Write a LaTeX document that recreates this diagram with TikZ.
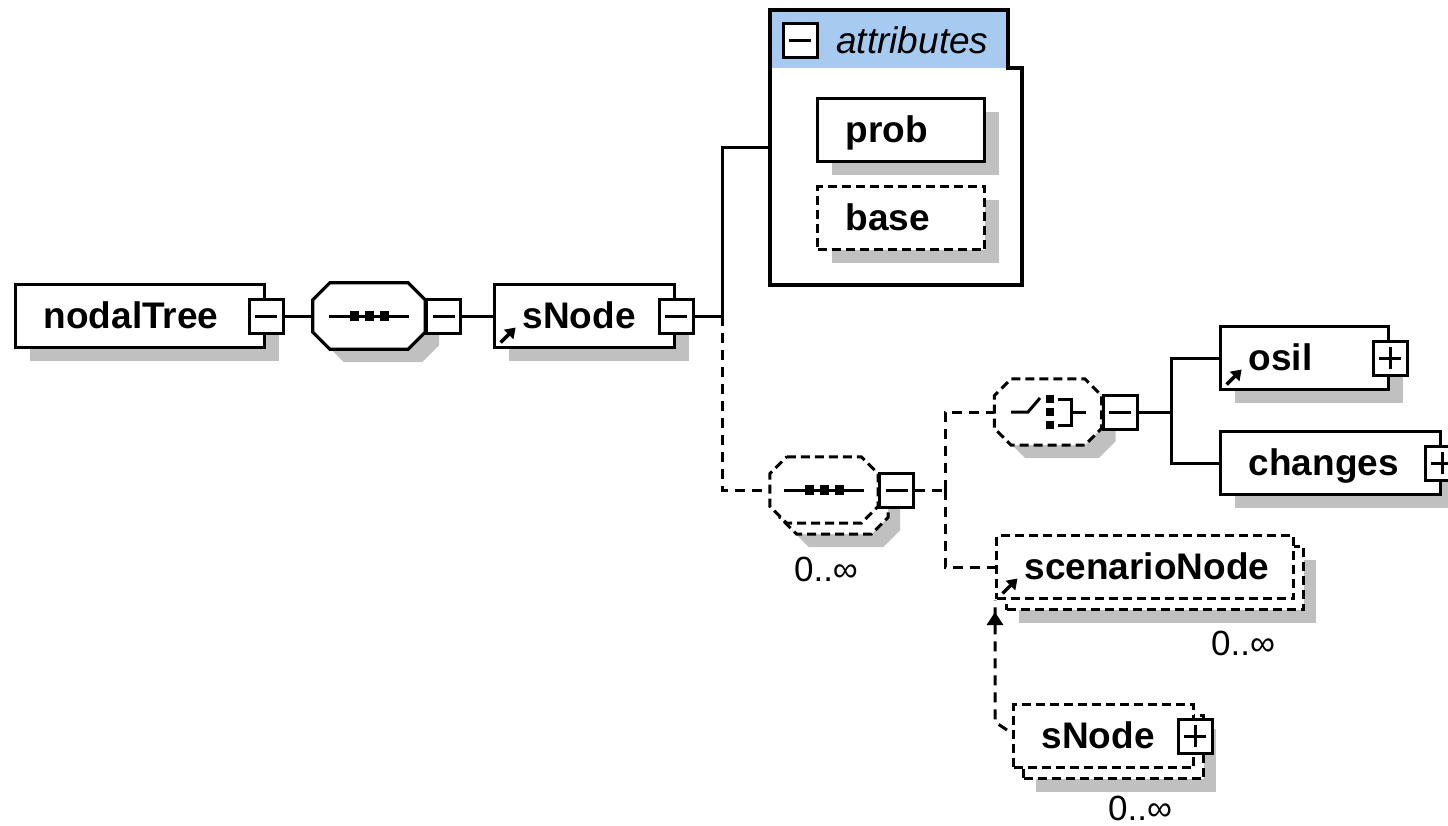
\documentclass[tikz,border=0pt]{standalone}
\usepackage{fontspec}
\setmainfont{Liberation Sans}
\usetikzlibrary{shadows,arrows.meta,decorations.markings}

\definecolor{shadowgray}{RGB}{192,192,192}
\definecolor{attrblue}{RGB}{166,202,240}

\newcommand{\elemfont}{\fontsize{37}{44}\selectfont\bfseries}
\newcommand{\multfont}{\fontsize{35}{40}\selectfont}
\newcommand{\attrfont}{\fontsize{37}{44}\selectfont\itshape}

\tikzstyle{box}=[draw, fill=white, line width=3.3pt, inner xsep=28pt, inner ysep=0pt, minimum height=63pt, text height=27pt, text depth=3pt, align=left, anchor=west, font=\elemfont]
\tikzstyle{optional}=[dash pattern=on 9pt off 5pt, line width=3pt]
\tikzstyle{shadowed}=[general shadow={fill=shadowgray, draw=none, shadow xshift=14pt, shadow yshift=-13pt}]
\tikzstyle{stacked}=[general shadow={fill=shadowgray, draw=none, shadow xshift=22pt, shadow yshift=-24pt}, general shadow={fill=white, draw=black, line width=3pt, dash pattern=on 9pt off 5pt, shadow xshift=10pt, shadow yshift=-11pt}]
\tikzstyle{compositor}=[inner sep=0pt, minimum width=108pt, minimum height=66pt]
\tikzstyle{minusbtn}=[draw, solid, fill=white, line width=3pt, minimum size=34pt, inner sep=0pt, path picture={\draw[solid, line width=3pt] ([xshift=-11pt]path picture bounding box.center) -- ([xshift=11pt]path picture bounding box.center);}]
\tikzstyle{plusbtn}=[draw, solid, fill=white, line width=3pt, minimum size=34pt, inner sep=0pt, path picture={\draw[solid, line width=3pt] ([xshift=-11pt]path picture bounding box.center) -- ([xshift=11pt]path picture bounding box.center) ([yshift=-11pt]path picture bounding box.center) -- ([yshift=11pt]path picture bounding box.center);}]
\tikzstyle{refarrow}=[path picture={\draw[solid, line width=3.5pt, -{Triangle[length=10pt,width=13pt]}] ([shift={(6pt,5pt)}]path picture bounding box.south west) -- ++(15pt,15pt);}]
\tikzstyle{conn}=[line width=3pt]
\tikzstyle{optconn}=[conn, dash pattern=on 10pt off 7pt]
\tikzstyle{recur}=[optconn, decoration={markings, mark=at position -12pt with {\arrow{Triangle[length=13pt,width=16pt]}}}, postaction={decorate}]
\tikzstyle{mult}=[font=\multfont, inner sep=0pt]

% octagon outline round a compositor node
\newcommand{\octpath}[1]{([xshift=17pt]#1.north west) -- ([xshift=-17pt]#1.north east) -- ([yshift=-17pt]#1.north east) -- ([yshift=17pt]#1.south east) -- ([xshift=-17pt]#1.south east) -- ([xshift=17pt]#1.south west) -- ([yshift=17pt]#1.south west) -- ([yshift=-17pt]#1.north west) -- cycle}
\newcommand{\seqicon}[1]{%
  \draw[conn] ([xshift=-40pt]#1.center) -- ([xshift=40pt]#1.center);
  \foreach \dx in {-15,0,15} \fill[black] ([xshift=\dx pt]#1.center) ++(-4.5pt,-5pt) rectangle ++(9pt,10pt);}
\newcommand{\choiceicon}[1]{%
  \begin{scope}[shift={(#1.center)}, line width=3pt]
    \draw (-37pt,0pt) -- (-20pt,0pt) -- (-8pt,14pt);
    \foreach \dy in {13,0,-13} \fill[black] (-2pt,\dy pt) ++(0pt,-4pt) rectangle ++(8pt,8pt);
    \draw (10pt,13pt) -- (23pt,13pt) -- (23pt,-13pt) -- (10pt,-13pt);
    \draw (23pt,0pt) -- (38pt,0pt);
  \end{scope}}

\begin{document}
\begin{tikzpicture}[x=1pt, y=-1pt]
\useasboundingbox (0,0) rectangle (1448,825);

% top row
\node[box, shadowed, text width=193pt] (nt) at (14,316) {nodalTree};
\node[minusbtn] (nt-b) at (nt.east) {};
\node[compositor, minimum width=112pt] (seq1) at (369,316) {};
\fill[shadowgray, transform canvas={shift={(14pt,-13pt)}}] \octpath{seq1};
\filldraw[fill=white, line width=3.3pt] \octpath{seq1};
\seqicon{seq1}
\node[minusbtn, anchor=west] (seq1-b) at (seq1.east) {};
\node[box, shadowed, refarrow, text width=124pt] (sn) at (493,316) {sNode};
\node[minusbtn] (sn-b) at (sn.east) {};

% attributes
\node[inner sep=0pt, minimum width=252pt, minimum height=275pt, anchor=north west] (attr) at (770,10) {};
\fill[attrblue] (770,10) rectangle (1008,68);
\draw[line width=3.3pt] (770,10) -- (1008,10) -- (1008,68) -- (1022,68) -- (1022,285) -- (770,285) -- cycle;
\node[minusbtn] (attr-b) at (800,40) {};
\node[font=\attrfont, anchor=base west, inner sep=0pt] (attr-l) at (836,53) {attributes};
\node[box, shadowed, text width=111pt] (prob) at (816,130) {prob};
\node[box, optional, shadowed, text width=111pt] (base) at (816,218) {base};

% content
\node[compositor] (seq2) at (824,490) {};
\fill[shadowgray, transform canvas={shift={(22pt,-24pt)}}] \octpath{seq2};
\filldraw[fill=white, optional, transform canvas={shift={(10pt,-11pt)}}] \octpath{seq2};
\filldraw[fill=white, optional] \octpath{seq2};
\seqicon{seq2}
\node[minusbtn, anchor=west] (seq2-b) at (seq2.east) {};
\node[mult] (seq2-m) at (826,569) {0..∞};
\node[compositor, minimum width=107pt] (ch) at (1048,412) {};
\fill[shadowgray, transform canvas={shift={(14pt,-13pt)}}] \octpath{ch};
\filldraw[fill=white, optional] \octpath{ch};
\choiceicon{ch}
\node[minusbtn, anchor=west] (ch-b) at (ch.east) {};
\node[box, shadowed, refarrow, text width=112pt] (osil) at (1219,358) {osil};
\node[plusbtn] (osil-b) at (osil.east) {};
\node[box, shadowed, text width=164pt] (chg) at (1219,463) {changes};
\node[plusbtn] (chg-b) at (chg.east) {};
\node[box, optional, stacked, refarrow, text width=241pt] (scn) at (995,567) {scenarioNode};
\node[mult] (scn-m) at (1243,643) {0..∞};
\node[box, optional, stacked, text width=124pt] (sn2) at (1012,736) {sNode};
\node[plusbtn] (sn2-b) at (sn2.east) {};
\node[mult] (sn2-m) at (1140,808) {0..∞};

% connectors
\coordinate (j1) at (722,316);
\coordinate (j2) at (945,490);
\coordinate (j3) at (1171,412);
\draw[conn] (nt-b.east) -- (seq1.west);
\draw[conn] (seq1-b.east) -- (sn.west);
\draw[conn] (sn-b.east) -- (j1) |- (attr.west);
\draw[optconn] (j1) |- (seq2.west);
\draw[optconn] (seq2-b.east) -- (j2);
\draw[optconn] (j2) |- (ch.west);
\draw[optconn] (j2) |- (scn.west);
\draw[conn] (ch-b.east) -- (j3);
\draw[conn] (j3) |- (osil.west);
\draw[conn] (j3) |- (chg.west);
\draw[recur] ([shift={(-5,-6)}]sn2.west) -- ++(-12,-8) -- (scn.south west);
\end{tikzpicture}
\end{document}
